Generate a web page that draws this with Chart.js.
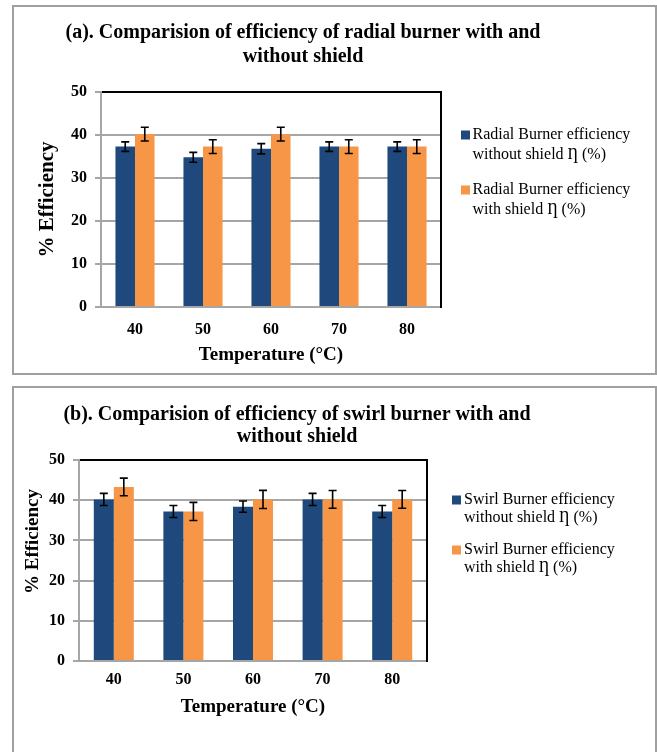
<!DOCTYPE html>
<html lang="en">
<head>
<meta charset="UTF-8">
<title>Burner efficiency with and without shield</title>
<script src="https://cdn.jsdelivr.net/npm/chart.js"></script>
<style>
  html, body { margin: 0; padding: 0; background: #fff; width: 657px; height: 752px; overflow: hidden; }
  .painel { position: absolute; left: 12px; width: 645px; border: 2px solid #a0a0a0; box-sizing: border-box; background: #fff; }
  #painelA { top: 5px; height: 370px; }
  #painelB { top: 386px; height: 400px; }
  .painel canvas { display: block; }
</style>
</head>
<body>
<div class="painel" id="painelA"><canvas id="graficoA" width="641" height="366"></canvas></div>
<div class="painel" id="painelB"><canvas id="graficoB" width="641" height="396"></canvas></div>

<script>
// data
const temperaturas = ['40', '50', '60', '70', '80'];

const radialSemEscudo = [37.3, 34.8, 36.8, 37.3, 37.3];
const radialSemEscudoErro = [1.1, 1.15, 1.2, 1.1, 1.1];
const radialComEscudo = [40.2, 37.3, 40.2, 37.3, 37.3];
const radialComEscudoErro = [1.6, 1.6, 1.6, 1.6, 1.6];

const swirlSemEscudo = [40.2, 37.2, 38.4, 40.2, 37.2];
const swirlSemEscudoErro = [1.5, 1.5, 1.4, 1.5, 1.5];
const swirlComEscudo = [43.3, 37.2, 40.2, 40.2, 40.2];
const swirlComEscudoErro = [2.2, 2.25, 2.25, 2.2, 2.2];

const legendaRadial = [['Radial Burner efficiency', 'without shield \u0220 (%)'], ['Radial Burner efficiency', 'with shield \u0220 (%)']];
const legendaSwirl = [['Swirl Burner efficiency', 'without shield \u0220 (%)'], ['Swirl Burner efficiency', 'with shield \u0220 (%)']];

const tituloA = ['(a). Comparision of efficiency of radial burner with and', 'without shield'];
const tituloB = ['(b). Comparision of efficiency of swirl burner with and', 'without shield'];

const AZUL = '#1f497d';
const LARANJA = '#f79646';
const CINZA = '#a6a6a6';
const FONTE = '"Liberation Serif", "Times New Roman", "DejaVu Serif", serif';

// error bars drawn from the y scale of the chart
const barrasErro = {
    id: 'barrasErro',
    afterDatasetsDraw(chart) {
        const ctx = chart.ctx;
        const escalaY = chart.scales.y;
        ctx.save();
        ctx.strokeStyle = '#000';
        ctx.lineWidth = 1.6;
        chart.data.datasets.forEach(function (ds, i) {
            const meta = chart.getDatasetMeta(i);
            meta.data.forEach(function (barra, j) {
                const cima = escalaY.getPixelForValue(ds.data[j] + ds.erros[j]);
                const baixo = escalaY.getPixelForValue(ds.data[j] - ds.erros[j]);
                ctx.beginPath();
                ctx.moveTo(barra.x, cima); ctx.lineTo(barra.x, baixo);
                ctx.moveTo(barra.x - 4, cima); ctx.lineTo(barra.x + 4, cima);
                ctx.moveTo(barra.x - 4, baixo); ctx.lineTo(barra.x + 4, baixo);
                ctx.stroke();
            });
        });
        ctx.restore();
    }
};

// legend on the right, two lines per entry like the Excel one
const legendaLateral = {
    id: 'legendaLateral',
    afterDraw(chart, args, opts) {
        const ctx = chart.ctx;
        const area = chart.chartArea;
        ctx.save();
        ctx.font = '16px ' + FONTE;
        ctx.textBaseline = 'middle';
        ctx.textAlign = 'left';
        chart.data.datasets.forEach(function (ds, i) {
            const y0 = opts.topo + i * opts.passoItem;
            ctx.fillStyle = ds.backgroundColor;
            ctx.fillRect(area.right + opts.caixaX, y0 - 4.5, 9, 9);
            ctx.fillStyle = '#000';
            ds.linhasLegenda.forEach(function (linha, k) {
                ctx.fillText(linha, area.right + opts.textoX, y0 + k * opts.passoLinha);
            });
        });
        ctx.restore();
    }
};

function montarGrafico(id, titulo, legendas, serieSem, erroSem, serieCom, erroCom, g) {
    const config = {
        type: 'bar',
        data: {
            labels: temperaturas,
            datasets: [{
                label: legendas[0].join(' '),
                linhasLegenda: legendas[0],
                data: serieSem,
                erros: erroSem,
                backgroundColor: AZUL,
                borderWidth: 0,
                barPercentage: 1,
                categoryPercentage: 0.575
            }, {
                label: legendas[1].join(' '),
                linhasLegenda: legendas[1],
                data: serieCom,
                erros: erroCom,
                backgroundColor: LARANJA,
                borderWidth: 0,
                barPercentage: 1,
                categoryPercentage: 0.575
            }]
        },
        options: {
            responsive: false,
            animation: false,
            events: [],
            layout: { padding: g.padding },
            scales: {
                x: {
                    grid: { display: false, drawTicks: false },
                    border: { display: true, color: CINZA, width: 2 },
                    ticks: { color: '#000', padding: g.ticksX, font: { family: FONTE, size: 16, weight: 'bold' } },
                    title: { display: true, text: 'Temperature (°C)', color: '#000', padding: 0, font: { family: FONTE, size: 19, weight: 'bold' } },
                    afterFit: function (escala) { escala.height = g.alturaX; }
                },
                y: {
                    min: 0,
                    max: 50,
                    ticks: { stepSize: 10, color: '#000', padding: 8, font: { family: FONTE, size: 16, weight: 'bold' } },
                    grid: {
                        color: function (c) { return c.tick && c.tick.value === 50 ? '#000' : CINZA; },
                        lineWidth: 2,
                        tickLength: 6,
                        tickColor: CINZA
                    },
                    border: { display: true, color: CINZA, width: 2 },
                    title: { display: true, text: g.tituloY, color: '#000', padding: 0, font: { family: FONTE, size: g.fonteY, weight: 'bold' } },
                    afterFit: function (escala) { escala.width = g.larguraY; }
                },
                y2: {
                    position: 'right',
                    min: 0,
                    max: 50,
                    grid: { display: false, drawTicks: false },
                    ticks: { display: false },
                    border: { display: true, color: '#000', width: 2 },
                    afterFit: function (escala) { escala.width = g.larguraDireita; }
                }
            },
            plugins: {
                legend: { display: false },
                tooltip: { enabled: false },
                title: {
                    display: true,
                    text: titulo,
                    color: '#000',
                    padding: g.paddingTitulo,
                    font: { family: FONTE, size: 20, weight: 'bold', lineHeight: g.alturaLinhaTitulo }
                },
                legendaLateral: g.legenda
            }
        },
        plugins: [barrasErro, legendaLateral]
    };

    return new Chart(document.getElementById(id), config);
}

montarGrafico('graficoA', tituloA, legendaRadial, radialSemEscudo, radialSemEscudoErro, radialComEscudo, radialComEscudoErro, {
    padding: { left: 21, right: 84, top: 0, bottom: 7 },
    paddingTitulo: { top: 14, bottom: 23 },
    alturaLinhaTitulo: 1.2,
    larguraY: 66,
    larguraDireita: 130,
    alturaX: 59,
    ticksX: 13,
    tituloY: '% Efficiency',
    fonteY: 21,
    legenda: { caixaX: 20, textoX: 31.5, topo: 128, passoLinha: 20, passoItem: 55 }
});

montarGrafico('graficoB', tituloB, legendaSwirl, swirlSemEscudo, swirlSemEscudoErro, swirlComEscudo, swirlComEscudoErro, {
    padding: { left: 8, right: 83, top: 0, bottom: 66 },
    paddingTitulo: { top: 16, bottom: 12 },
    alturaLinhaTitulo: 1.1,
    larguraY: 57,
    larguraDireita: 145,
    alturaX: 57,
    ticksX: 9,
    tituloY: '        % Efficiency',
    fonteY: 19,
    legenda: { caixaX: 25, textoX: 37, topo: 112, passoLinha: 18, passoItem: 50 }
});
</script>
</body>
</html>
